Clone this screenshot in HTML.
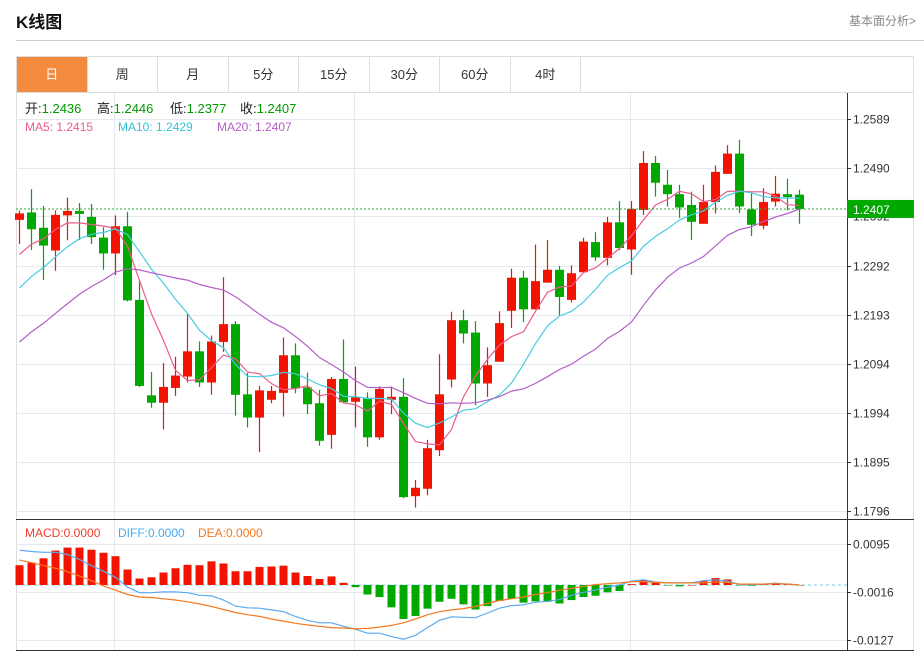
<!DOCTYPE html>
<html><head><meta charset="utf-8">
<style>
body{margin:0;width:924px;height:652px;background:#fff;font-family:"Liberation Sans","Noto Sans CJK SC",sans-serif;overflow:hidden;position:relative}
.title{position:absolute;left:16px;top:8px;font-size:17px;font-weight:bold;color:#111}
.more{position:absolute;right:8px;top:12px;font-size:12px;color:#888}
.hr{position:absolute;left:16px;right:0;top:40px;height:1px;background:#ccc}
.tabs{position:absolute;left:16px;top:56px;width:898px;height:36px;border:1px solid #ddd;border-bottom:none;box-sizing:border-box;display:flex}
.tab{width:70.5px;height:35px;border-right:1px solid #ddd;box-sizing:border-box;text-align:center;line-height:35px;font-size:13px;color:#333}
.tab.on{background:#f38b3f;color:#fff}
svg{position:absolute;left:0;top:0}
</style></head><body>
<div class="title">K线图</div>
<div class="more">基本面分析&gt;</div>
<div class="hr"></div>
<div class="tabs">
<div class="tab on">日</div>
<div class="tab">周</div>
<div class="tab">月</div>
<div class="tab">5分</div>
<div class="tab">15分</div>
<div class="tab">30分</div>
<div class="tab">60分</div>
<div class="tab">4时</div>
</div>
<svg id="chart" width="924" height="652"></svg>
<script>
const opens=[1.2385,1.2400,1.2369,1.2323,1.2394,1.2403,1.2391,1.2349,1.2317,1.2372,1.2223,1.2030,1.2015,1.2045,1.2068,1.2119,1.2056,1.2138,1.2174,1.2032,1.1985,1.2021,1.2035,1.2111,1.2046,1.2014,1.1950,1.2063,1.2017,1.2025,1.1945,1.2021,1.2027,1.1826,1.1841,1.1919,1.2062,1.2182,1.2157,1.2054,1.2098,1.2201,1.2268,1.2204,1.2258,1.2284,1.2223,1.2279,1.2340,1.2308,1.2380,1.2325,1.2405,1.2500,1.2456,1.2437,1.2415,1.2377,1.2421,1.2478,1.2519,1.2406,1.2373,1.2422,1.2437,1.2436];
const closes=[1.2398,1.2366,1.2333,1.2395,1.2403,1.2397,1.2350,1.2317,1.2372,1.2222,1.2049,1.2015,1.2047,1.2070,1.2119,1.2056,1.2139,1.2174,1.2031,1.1985,1.2040,1.2039,1.2111,1.2044,1.2012,1.1938,1.2063,1.2016,1.2026,1.1945,1.2043,1.2027,1.1824,1.1843,1.1923,1.2032,1.2182,1.2155,1.2054,1.2091,1.2176,1.2268,1.2204,1.2261,1.2284,1.2229,1.2277,1.2341,1.2309,1.2380,1.2328,1.2407,1.2500,1.2460,1.2437,1.2410,1.2381,1.2421,1.2482,1.2519,1.2412,1.2375,1.2421,1.2438,1.2431,1.2407];
const highs=[1.2404,1.2447,1.2413,1.2404,1.2430,1.2419,1.2417,1.2370,1.2394,1.2401,1.2263,1.2077,1.2095,1.2108,1.2195,1.2139,1.2151,1.2269,1.2180,1.2075,1.2049,1.2049,1.2147,1.2135,1.2076,1.2041,1.2067,1.2143,1.2088,1.2036,1.2048,1.2048,1.2065,1.1859,1.1940,1.2113,1.2199,1.2203,1.2180,1.2127,1.2200,1.2286,1.2282,1.2335,1.2344,1.2292,1.2293,1.2349,1.2360,1.2391,1.2423,1.2423,1.2524,1.2514,1.2486,1.2456,1.2442,1.2456,1.2495,1.2536,1.2547,1.2439,1.2449,1.2474,1.2468,1.2446];
const lows=[1.2336,1.2324,1.2263,1.2282,1.2344,1.2344,1.2336,1.2284,1.2273,1.2220,1.2047,1.2005,1.1961,1.2029,1.2056,1.2047,1.2031,1.2118,1.1989,1.1965,1.1915,1.2014,1.1987,1.2034,1.1992,1.1928,1.1922,1.2016,1.1965,1.1926,1.1940,1.1992,1.1822,1.1803,1.1828,1.1907,1.2046,1.2135,1.2010,1.2027,1.2098,1.2166,1.2178,1.2204,1.2258,1.2192,1.2218,1.2279,1.2302,1.2293,1.2324,1.2274,1.2395,1.2432,1.2412,1.2389,1.2344,1.2377,1.2398,1.2478,1.2399,1.2352,1.2366,1.2412,1.2404,1.2377];
const priorCloses=[1.1960,1.1985,1.1990,1.2010,1.2020,1.2035,1.2050,1.2060,1.2080,1.2100,1.2130,1.2150,1.2180,1.2200,1.2235,1.2260,1.2280,1.2300,1.2336];
const priceTicks=[1.2589,1.2490,1.2392,1.2292,1.2193,1.2094,1.1994,1.1895,1.1796];
const macdBars=[0.0046,0.0052,0.0062,0.0080,0.0087,0.0087,0.0082,0.0075,0.0067,0.0036,0.0015,0.0018,0.0029,0.0039,0.0047,0.0046,0.0055,0.0050,0.0032,0.0032,0.0042,0.0043,0.0045,0.0029,0.0021,0.0014,0.0020,0.0005,-0.0005,-0.0022,-0.0028,-0.0052,-0.0079,-0.0072,-0.0055,-0.0039,-0.0032,-0.0045,-0.0057,-0.0049,-0.0037,-0.0032,-0.0041,-0.0038,-0.0039,-0.0043,-0.0035,-0.0028,-0.0025,-0.0017,-0.0014,0.0002,0.0012,0.0005,-0.0001,-0.0003,0.0000,0.0009,0.0016,0.0013,-0.0001,-0.0002,0.0003,0.0005,0.0003,0.0000];
const diffLine=[0.0081,0.0078,0.0076,0.0076,0.0071,0.0059,0.0045,0.0032,0.0018,-0.0005,-0.0018,-0.0018,-0.0016,-0.0016,-0.0018,-0.0024,-0.0025,-0.0035,-0.0049,-0.0053,-0.0054,-0.0058,-0.0062,-0.0073,-0.0082,-0.0088,-0.0088,-0.0096,-0.0103,-0.0112,-0.0112,-0.0120,-0.0126,-0.0117,-0.0099,-0.0082,-0.0074,-0.0075,-0.0076,-0.0065,-0.0054,-0.0048,-0.0046,-0.0040,-0.0038,-0.0034,-0.0024,-0.0017,-0.0012,-0.0005,0.0000,0.0009,0.0012,0.0007,0.0005,0.0005,0.0005,0.0010,0.0012,0.0009,0.0001,0.0000,0.0002,0.0004,0.0002,0.0000];
const deaLine=[0.0058,0.0052,0.0045,0.0039,0.0031,0.0021,0.0010,-0.0002,-0.0012,-0.0022,-0.0028,-0.0029,-0.0032,-0.0035,-0.0039,-0.0044,-0.0050,-0.0057,-0.0064,-0.0069,-0.0073,-0.0079,-0.0084,-0.0089,-0.0093,-0.0096,-0.0099,-0.0100,-0.0102,-0.0101,-0.0098,-0.0094,-0.0088,-0.0079,-0.0069,-0.0062,-0.0058,-0.0055,-0.0050,-0.0043,-0.0036,-0.0032,-0.0028,-0.0022,-0.0018,-0.0012,-0.0008,-0.0003,0.0001,0.0003,0.0005,0.0008,0.0008,0.0006,0.0005,0.0005,0.0005,0.0005,0.0007,0.0006,0.0002,0.0002,0.0002,0.0003,0.0002,0.0000];
const macdTicks=[0.0095,-0.0016,-0.0127];

const NS='http://www.w3.org/2000/svg';
const svg=document.getElementById('chart');
function mk(tag,attrs,parent){const e=document.createElementNS(NS,tag);for(const k in attrs)e.setAttribute(k,attrs[k]);(parent||svg).appendChild(e);return e;}
const L=16,R=847;
const xOf=i=>19.5+12*i;
const yP=p=>119+(1.2589-p)/0.0793*392;
const yM=v=>585-v*4300;
const RED='#f21300',GREEN='#00a800';

let e=mk('rect',{x:L+0.5,y:92.5,width:897,height:558,fill:'none',stroke:'#ddd'});


[114.5,354.5,630.5].forEach(gx=>{
  e=mk('line',{x1:gx,y1:93,x2:gx,y2:650,stroke:'#e3e9ef'});
  
  
});
priceTicks.forEach(t=>{
  const y=Math.round(yP(t))+0.5;
  e=mk('line',{x1:L,y1:y,x2:R,y2:y,stroke:'#e3e9ef'});
  
  
  mk('line',{x1:R,y1:y,x2:R+4,y2:y,stroke:'#333'});
  e=mk('text',{x:R+6,y:y+4,'font-size':12,fill:'#333'});e.textContent=t.toFixed(4);
  
  
});
macdTicks.forEach(t=>{
  const y=Math.round(yM(t))+0.5;
  e=mk('line',{x1:L,y1:y,x2:R,y2:y,stroke:'#e3e9ef'});
  
  
  mk('line',{x1:R,y1:y,x2:R+4,y2:y,stroke:'#333'});
  e=mk('text',{x:R+6,y:y+4,'font-size':12,fill:'#333'});e.textContent=t.toFixed(4);
  
  
});
e=mk('line',{x1:R+0.5,y1:93,x2:R+0.5,y2:651,stroke:'#333'});


e=mk('line',{x1:L,y1:519.5,x2:914,y2:519.5,stroke:'#333'});


e=mk('line',{x1:L,y1:650.5,x2:914,y2:650.5,stroke:'#333'});



for(let i=0;i<closes.length;i++){
  const up=closes[i]>=opens[i];const c=up?RED:GREEN;const x=xOf(i);
  const g=mk('g',{});
  
  
  mk('line',{x1:x,y1:yP(highs[i]),x2:x,y2:yP(lows[i]),stroke:c,'stroke-width':1.2},g);
  const t=yP(Math.max(opens[i],closes[i])),b=yP(Math.min(opens[i],closes[i]));
  mk('rect',{x:x-4.5,y:t,width:9,height:Math.max(1,b-t),fill:c},g);
}
const all=priorCloses.concat(closes);
function ma(n){return closes.map((_,i)=>{const j=i+priorCloses.length;let s=0,k=0;for(let m=Math.max(0,j-n+1);m<=j;m++){s+=all[m];k++;}return s/k;});}
[[5,'#ee5a8a','ma5-line'],[10,'#45cde0','ma10-line'],[20,'#b35fc9','ma20-line']].forEach(([n,col,nm])=>{
  const v=ma(n);
  e=mk('polyline',{points:v.map((p,i)=>xOf(i)+','+yP(p).toFixed(1)).join(' '),fill:'none',stroke:col,'stroke-width':1.2});
  
  
});
const lastY=yP(closes[closes.length-1]);
e=mk('line',{x1:L,y1:lastY,x2:R,y2:lastY,stroke:'#2fae2f','stroke-dasharray':'2,2'});


e=mk('rect',{x:R,y:lastY-9,width:67,height:18,fill:'#00a800'});


e=mk('text',{x:R+6,y:lastY+5,'font-size':12,fill:'#fff'});e.textContent=closes[closes.length-1].toFixed(4);



e=mk('line',{x1:L,y1:yM(0),x2:R,y2:yM(0),stroke:'#a8dbe8','stroke-dasharray':'3,3','stroke-width':1.5});


macdBars.forEach((v,i)=>{
  const y0=yM(0),y1=yM(v);
  e=mk('rect',{x:xOf(i)-4,y:Math.min(y0,y1),width:8,height:Math.max(0.5,Math.abs(y1-y0)),fill:v>=0?RED:GREEN});
  
  
});
e=mk('polyline',{points:diffLine.map((v,i)=>xOf(i)+','+yM(v).toFixed(1)).join(' '),fill:'none',stroke:'#5aaaf0','stroke-width':1.2});


e=mk('polyline',{points:deaLine.map((v,i)=>xOf(i)+','+yM(v).toFixed(1)).join(' '),fill:'none',stroke:'#f47a20','stroke-width':1.2});



function txt(x,y,s,col,nm,fs){const t=mk('text',{x:x,y:y,'font-size':fs||12,fill:col});t.textContent=s;return t;}
[[25,'开:','1.2436','open'],[97,'高:','1.2446','high'],[170,'低:','1.2377','low'],[240,'收:','1.2407','close']].forEach(([x,lab,val,nm])=>{
  const t=mk('text',{x:x,y:113,'font-size':13,fill:'#222'});
  
  
  t.innerHTML='<tspan>'+lab+'</tspan><tspan fill="#009a00">'+val+'</tspan>';
});
txt(25,131,'MA5: 1.2415','#ee5a8a','ma5-legend');
txt(118,131,'MA10: 1.2429','#2ec3da','ma10-legend');
txt(217,131,'MA20: 1.2407','#b35fc9','ma20-legend');
txt(25,537,'MACD:0.0000','#f03a2a','macd-legend');
txt(118,537,'DIFF:0.0000','#4aa8f0','diff-legend');
txt(198,537,'DEA:0.0000','#f07a20','dea-legend');
</script>
</body></html>
